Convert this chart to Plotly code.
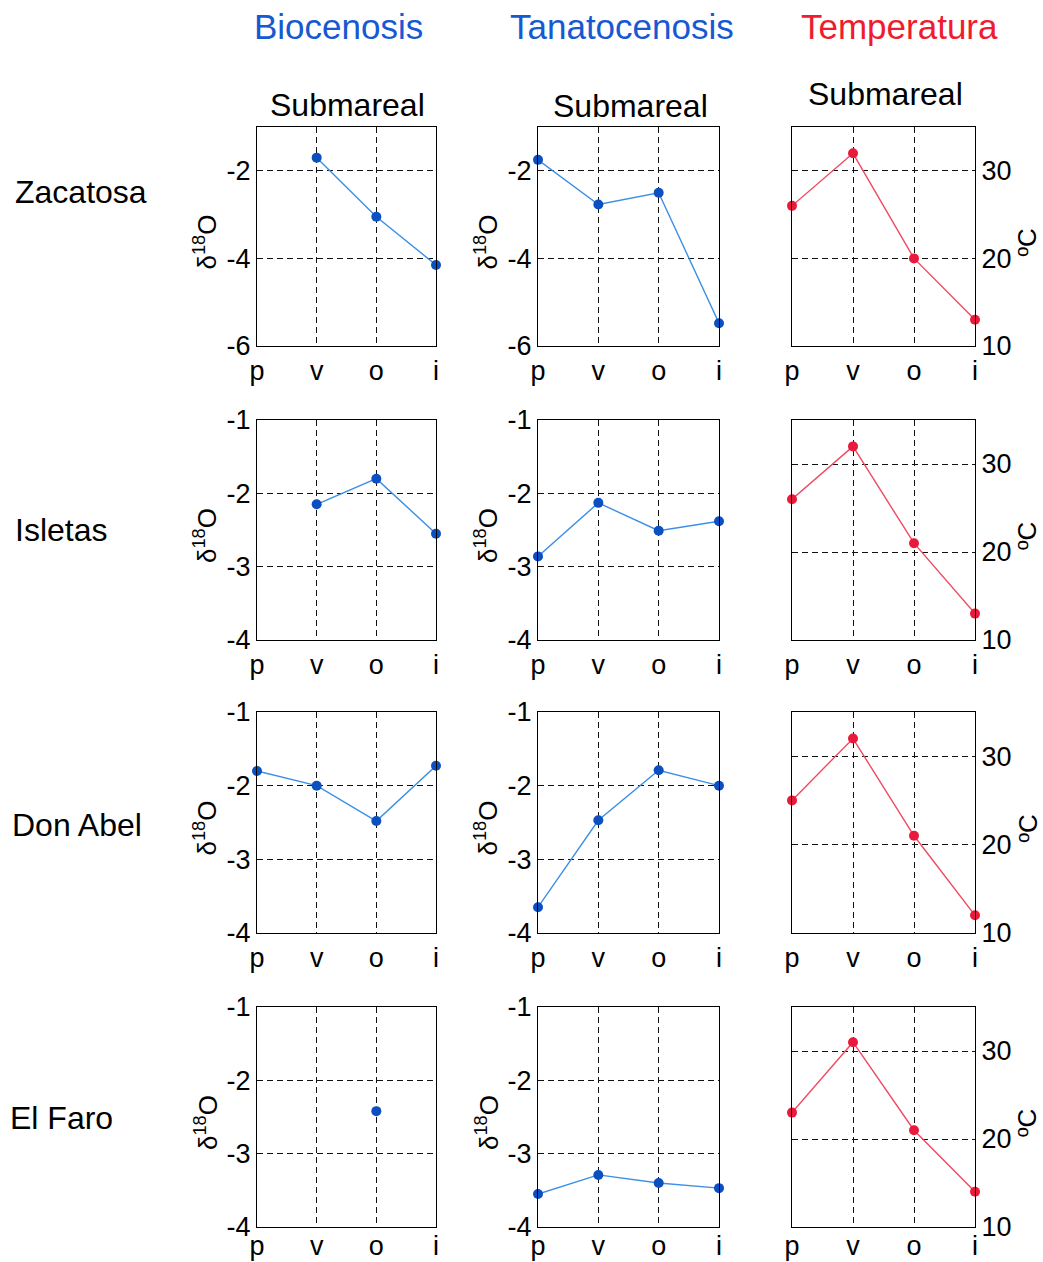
import plotly.graph_objects as go

# Seasons: primavera, verano, otoño, invierno
seasons = ["p", "v", "o", "i"]
sites = ["Zacatosa", "Isletas", "Don Abel", "El Faro"]

# δ18O in living shells (biocenosis)
bio_zacatosa = [None, -1.7, -3.05, -4.15]
bio_isletas = [None, -2.15, -1.8, -2.55]
bio_donabel = [-1.8, -2.0, -2.48, -1.73]
bio_elfaro = [None, None, -2.42, None]

# δ18O in dead shells (tanatocenosis)
tan_zacatosa = [-1.75, -2.77, -2.5, -5.48]
tan_isletas = [-2.86, -2.13, -2.51, -2.38]
tan_donabel = [-3.65, -2.47, -1.79, -2.0]
tan_elfaro = [-3.55, -3.29, -3.4, -3.47]

# Water temperature (ºC)
temp_zacatosa = [26, 32, 20, 13]
temp_isletas = [26, 32, 21, 13]
temp_donabel = [25, 32, 21, 12]
temp_elfaro = [23, 31, 21, 14]

bio = [bio_zacatosa, bio_isletas, bio_donabel, bio_elfaro]
tan = [tan_zacatosa, tan_isletas, tan_donabel, tan_elfaro]
temp = [temp_zacatosa, temp_isletas, temp_donabel, temp_elfaro]

W, H = 1043, 1262
FONT = "Liberation Sans, Arial, sans-serif"
BLUE_LINE, BLUE_MARK = "#3b8fe6", "#0b4fc0"
RED_LINE, RED_MARK = "#ef4a60", "#ea1a3c"


def px_x(x):
    return x / W


def px_y(y):
    return 1 - y / H


col_px = [(257, 436), (538, 719), (792, 975)]
row_px = [(127, 346), (420, 640), (712, 933), (1007, 1227)]

fig = go.Figure()
layout = dict(
    width=W, height=H,
    margin=dict(l=0, r=0, t=0, b=0, pad=0),
    paper_bgcolor="white", plot_bgcolor="white",
    showlegend=False,
    font=dict(family=FONT, color="black"),
)
annotations = []

idx = 0
for r in range(4):
    for c in range(3):
        idx += 1
        xa = "x" if idx == 1 else f"x{idx}"
        ya = "y" if idx == 1 else f"y{idx}"
        xkey = "xaxis" if idx == 1 else f"xaxis{idx}"
        ykey = "yaxis" if idx == 1 else f"yaxis{idx}"
        x0, x1 = col_px[c]
        y0, y1 = row_px[r]

        if c == 2:
            vals, lc, mc = temp[r], RED_LINE, RED_MARK
            yrange, ticks = [10, 35], [10, 20, 30]
        else:
            vals = bio[r] if c == 0 else tan[r]
            lc, mc = BLUE_LINE, BLUE_MARK
            if r == 0:
                yrange, ticks = [-6, -1], [-6, -4, -2]
            else:
                yrange, ticks = [-4, -1], [-4, -3, -2, -1]

        fig.add_trace(go.Scatter(
            x=list(range(len(seasons))), y=vals, mode="lines+markers",
            line=dict(color=lc, width=1.4),
            marker=dict(color=mc, size=10),
            connectgaps=False, cliponaxis=False,
            xaxis=xa, yaxis=ya,
        ))

        layout[xkey] = dict(
            domain=[px_x(x0), px_x(x1)], anchor=ya,
            range=[0, 3], tickmode="array",
            tickvals=list(range(len(seasons))), ticktext=seasons,
            showline=True, linecolor="black", linewidth=1.2, mirror=True,
            showgrid=True, gridcolor="#111", gridwidth=1, griddash="6px,4px",
            zeroline=False, ticks="", tickfont=dict(size=27, family=FONT),
            ticklabelstandoff=-6 if r == 3 else 0,
            automargin=False, fixedrange=True,
        )
        layout[ykey] = dict(
            domain=[px_y(y1), px_y(y0)], anchor=xa,
            range=yrange, tickmode="array", tickvals=ticks,
            ticktext=[str(t) for t in ticks],
            side="right" if c == 2 else "left",
            showline=True, linecolor="black", linewidth=1.2, mirror=True,
            showgrid=True, gridcolor="#111", gridwidth=1, griddash="6px,4px",
            zeroline=False, ticks="", tickfont=dict(size=27, family=FONT),
            automargin=False, fixedrange=True,
        )

        # axis titles
        yc = px_y((y0 + y1) / 2 + 6)
        if c == 2:
            annotations.append(dict(
                text="ºC", x=px_x(1027), y=yc, xref="paper", yref="paper",
                showarrow=False, textangle=-90,
                font=dict(size=26, family=FONT, color="black"),
                xanchor="center", yanchor="middle",
            ))
        else:
            annotations.append(dict(
                text="δ<sup>18</sup>O", x=px_x(x0 - 51), y=yc,
                xref="paper", yref="paper", showarrow=False, textangle=-90,
                font=dict(size=26, family=FONT, color="black"),
                xanchor="center", yanchor="middle",
            ))

# column headers
headers = [("Biocenosis", 338, "#1659d2"),
           ("Tanatocenosis", 622, "#1659d2"),
           ("Temperatura", 899, "#ee1c2e")]
for text, xc, color in headers:
    annotations.append(dict(
        text=text, x=px_x(xc), y=px_y(27), xref="paper", yref="paper",
        showarrow=False, xanchor="center", yanchor="middle",
        font=dict(size=35, family=FONT, color=color),
    ))

# panel subtitles over the first row
for xc, yc in [(347, 105), (630, 106), (885, 94)]:
    annotations.append(dict(
        text="Submareal", x=px_x(xc), y=px_y(yc), xref="paper", yref="paper",
        showarrow=False, xanchor="center", yanchor="middle",
        font=dict(size=32, family=FONT, color="black"),
    ))

# site names
for name, yc, xl in zip(sites, [192, 530, 825, 1118], [13, 13, 10, 8]):
    annotations.append(dict(
        text=name, x=px_x(xl), y=px_y(yc), xref="paper", yref="paper",
        showarrow=False, xanchor="left", yanchor="middle",
        font=dict(size=32, family=FONT, color="black"),
    ))

layout["annotations"] = annotations
fig.update_layout(**layout)
fig.write_html("out.html")
